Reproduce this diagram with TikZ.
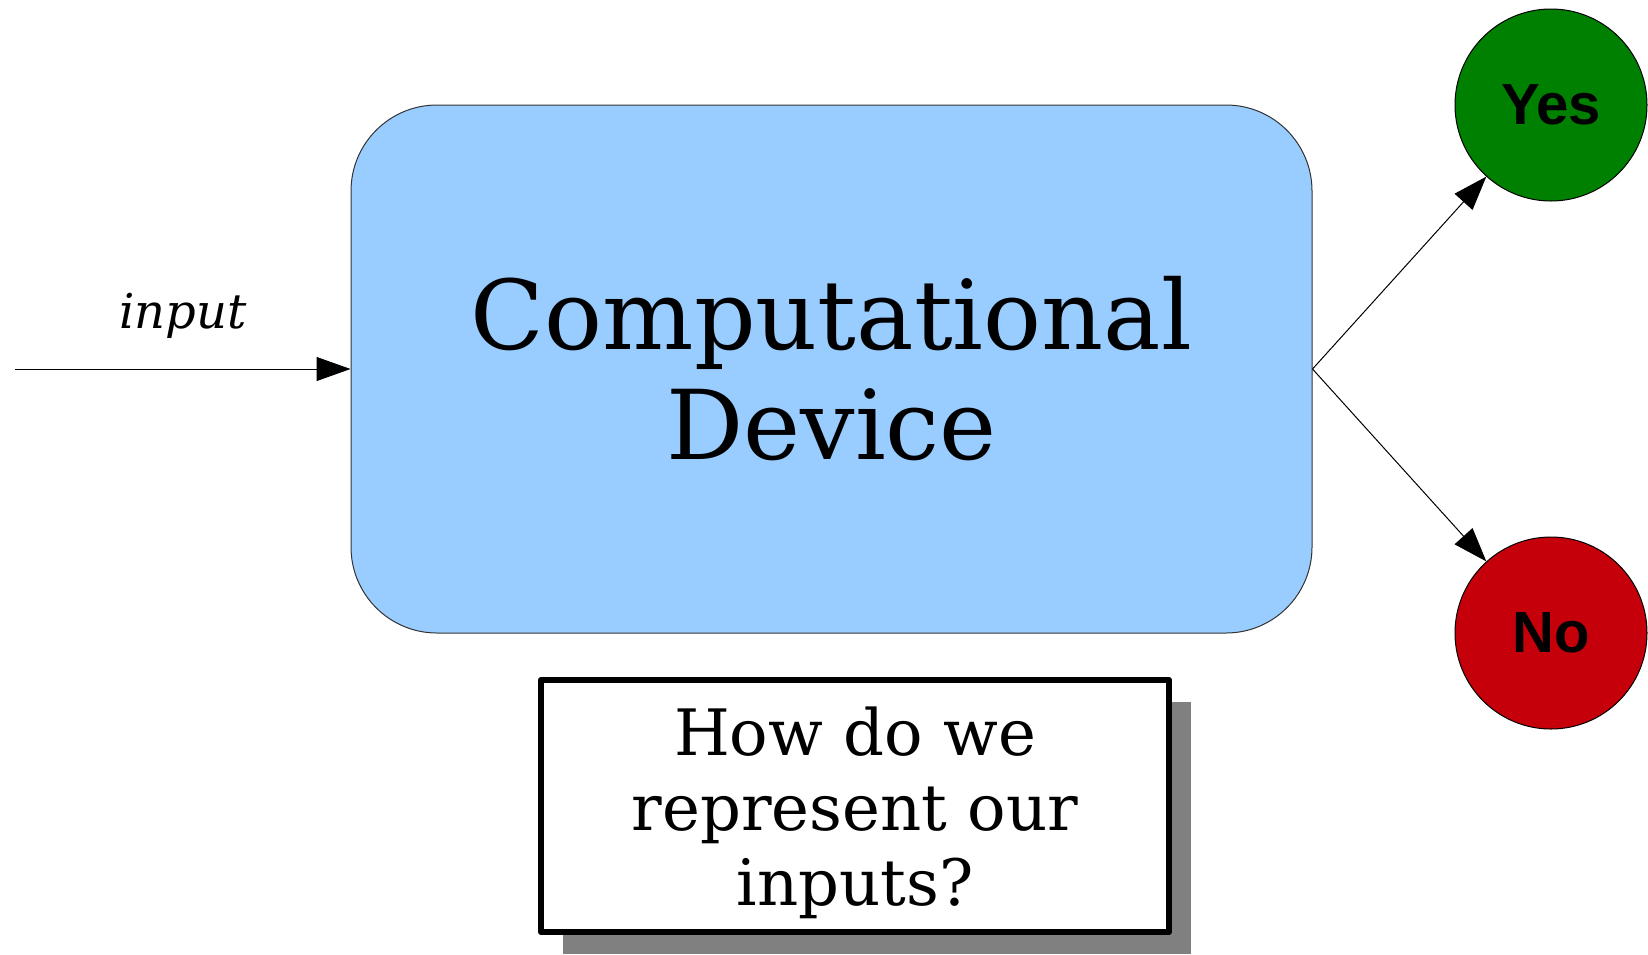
\documentclass[tikz,border=0pt]{standalone}
\usepackage{fontspec}
\setmainfont{DejaVu Serif}
\newfontfamily\labelsans{Liberation Sans}
\usetikzlibrary{arrows.meta,shadows}
\definecolor{skyblue}{RGB}{153,204,255}
\definecolor{yesgreen}{RGB}{0,128,0}
\definecolor{nored}{RGB}{197,0,11}
\definecolor{shadowgray}{RGB}{128,128,128}
\begin{document}
\begin{tikzpicture}[x=0.5pt,y=-0.5pt,
  arr/.style={line width=0.5pt,-{Triangle[length=17pt,width=12pt]}},
  device/.style={draw=black!80,line width=0.5pt,fill=skyblue,rounded corners=43pt,
    minimum width=480.5pt,minimum height=264pt,inner sep=0pt,align=center,
    font=\fontsize{48.2}{55}\selectfont},
  answer/.style={circle,draw=black,line width=0.5pt,minimum size=96pt,inner sep=0pt,
    font=\labelsans\bfseries\fontsize{29}{33}\selectfont},
  question/.style={draw=black,line width=3pt,fill=white,line join=round,
    minimum width=314pt,minimum height=126pt,inner sep=0pt,
    drop shadow={shadow xshift=11pt,shadow yshift=-11pt,opacity=1,fill=shadowgray}},
  qtext/.style={align=center,inner sep=0pt,font=\fontsize{32}{37.5}\selectfont},
  inlabel/.style={inner sep=0pt,font=\itshape\fontsize{24}{28}\selectfont}
]
\useasboundingbox (0,0) rectangle (1648,954);

\node[device] (dev) at (831.5,369) {Computational\\Device};
\coordinate (src) at (15,369);
\draw[arr] (src) -- (dev.west);
\node[inlabel,anchor=base] (inl) at (183,328) {input};

\node[answer,fill=yesgreen] (yes) at (1551,105) {Yes};
\node[answer,fill=nored] (no) at (1551,633) {No};
\draw[arr] (dev.east) -- (yes);
\draw[arr] (dev.east) -- (no);

\node[question] (q) at (855,806) {};
\node[qtext] (qt) at (855,813) {How do we\\represent our\\inputs?};
\end{tikzpicture}
\end{document}
